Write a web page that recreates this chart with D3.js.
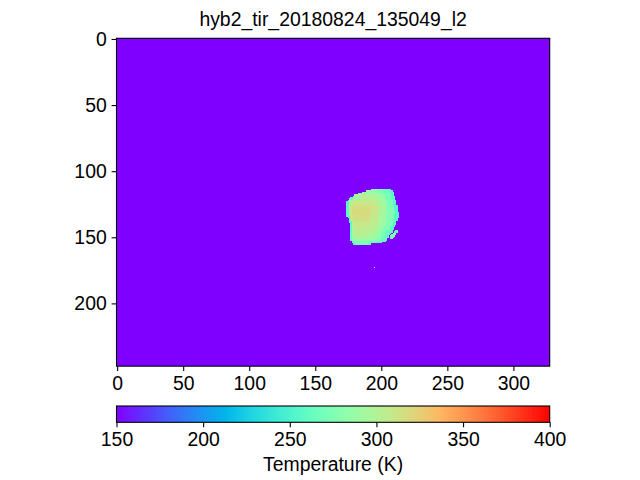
<!DOCTYPE html>
<html><head><meta charset="utf-8">
<script src="https://cdn.jsdelivr.net/npm/d3@7"></script>
<style>
body{margin:0;background:#fff}
svg{display:block}
text{font-family:"Liberation Sans",Arial,Helvetica,sans-serif}
</style>
</head><body>
<svg id="chart" width="640" height="480"></svg>
<script>
// ---------------- data ----------------
const title = "hyb2_tir_20180824_135049_l2";
const colorbarLabel = "Temperature (K)";
const imageWidth = 328, imageHeight = 248;
const xTicks = [0, 50, 100, 150, 200, 250, 300];
const yTicks = [0, 50, 100, 150, 200];
const cbarTicks = [150, 200, 250, 300, 350, 400];
const tMin = 150, tMax = 400;
const backgroundT = 150;           // sky pixels (at / below colour floor)

// blob outline: [row, firstCol, lastCol]
const blobRows = [
  [114,193,207],[115,189,208],[116,186,209],[117,183,209],[118,180,209],
  [119,179,210],[120,177,210],[121,176,210],[122,175,211],[123,174,211],
  [124,174,211],[125,174,211],[126,174,212],[127,174,212],[128,174,212],
  [129,174,212],[130,174,212],[131,174,213],[132,174,213],[133,174,213],
  [134,174,213],[135,175,213],[136,176,212],[137,176,212],[138,176,211],
  [139,176,211],[140,177,211],[141,177,210],[142,177,210],[143,177,209],
  [144,177,209],[145,177,208],[146,177,208],[147,177,207],[148,177,206],
  [149,177,205],[150,177,205],[151,177,204],[152,177,204],[153,178,203],
  [154,178,200],[155,179,192]
];
// temperature bands: first row of each band, then list of [fromCol, T]
const bandStart = [114,118,122,126,130,134,138,142,146,150,153];
const bandRuns = [
  [[173,272],[184,288],[192,285],[197,276],[202,266],[207,255]],
  [[173,266],[179,292],[184,302],[192,300],[198,288],[203,272],[208,256]],
  [[173,260],[176,300],[178,310],[193,306],[199,292],[204,274],[209,256]],
  [[173,258],[176,308],[178,316],[194,308],[200,292],[205,274],[210,255]],
  [[173,258],[176,310],[178,318],[193,310],[199,294],[204,276],[211,254]],
  [[173,258],[177,308],[179,315],[192,308],[198,294],[204,276],[210,256]],
  [[173,260],[178,304],[180,310],[192,305],[198,292],[204,274],[209,258]],
  [[173,260],[178,298],[180,306],[191,302],[197,290],[202,272],[207,258]],
  [[173,262],[178,292],[180,302],[190,298],[196,286],[200,272],[204,260]],
  [[173,264],[178,280],[180,292],[190,288],[196,278],[200,265]],
  [[173,262],[180,272],[190,268],[197,262]]
];
// small detached fragment: [row, firstCol, lastCol, T]
const fragmentRows = [
  [145,211,212,260],[146,210,212,266],[147,209,211,285],[148,208,211,288],
  [149,207,210,278],[150,207,209,268],[151,207,208,262]
];
// isolated warm pixel: [col, row, T]
const hotPixels = [[195,173,300]];

(function () {
// ---------------- layout ----------------
const svg = d3.select("#chart");
const pL = 116.5, pR = 549.7, pT = 38.3, pB = 366.2;
const cbTop = 406, cbBottom = 422.3;
const fontPx = 19.4, tickLen = 4.9, tickPad = 4.9;

const x = d3.scaleLinear().domain([-0.5, imageWidth - 0.5]).range([pL, pR]);
const y = d3.scaleLinear().domain([-0.5, imageHeight - 0.5]).range([pT, pB]);

const rainbow = t => d3.rgb(
  255 * Math.min(1, Math.abs(2 * t - 0.5)),
  255 * Math.max(0, Math.sin(Math.PI * t)),
  255 * Math.max(0, Math.cos(Math.PI * t / 2))
);
const color = d3.scaleSequential(t => rainbow(t).toString()).domain([tMin, tMax]).clamp(true);

// ---------------- build pixel runs ----------------
function tempAt(row, col) {
  let b = 0;
  for (let i = 0; i < bandStart.length; i++) if (row >= bandStart[i]) b = i;
  let T = bandRuns[b][0][1];
  for (const [c, t] of bandRuns[b]) if (col >= c) T = t;
  return T;
}
const runs = [];
for (const [row, c0, c1] of blobRows) {
  let start = c0, cur = tempAt(row, c0);
  for (let c = c0 + 1; c <= c1 + 1; c++) {
    const t = c <= c1 ? tempAt(row, c) : null;
    if (t !== cur) { runs.push({row, c0: start, c1: c - 1, T: cur}); start = c; cur = t; }
  }
}
for (const [row, c0, c1, T] of fragmentRows) runs.push({row, c0, c1, T});
for (const [col, row, T] of hotPixels) runs.push({row, c0: col, c1: col, T});

// ---------------- image ----------------
const img = svg.append("g").attr("shape-rendering", "crispEdges");
img.append("rect")
  .attr("x", x(-0.5)).attr("y", y(-0.5))
  .attr("width", x(imageWidth - 0.5) - x(-0.5))
  .attr("height", y(imageHeight - 0.5) - y(-0.5))
  .attr("fill", color(backgroundT));
img.selectAll("rect.px").data(runs).join("rect").attr("class", "px")
  .attr("x", d => x(d.c0 - 0.5))
  .attr("y", d => y(d.row - 0.5))
  .attr("width", d => x(d.c1 + 0.5) - x(d.c0 - 0.5))
  .attr("height", d => y(d.row + 0.5) - y(d.row - 0.5))
  .attr("fill", d => color(d.T));

svg.append("rect").attr("x", pL).attr("y", pT)
  .attr("width", pR - pL).attr("height", pB - pT)
  .attr("fill", "none").attr("stroke", "#000").attr("stroke-width", 1.1);

function styleAxis(g) {
  g.select(".domain").remove();
  g.selectAll(".tick line").attr("stroke", "#000").attr("stroke-width", 1.1);
  g.selectAll(".tick text").attr("fill", "#000")
    .style("font-size", fontPx + "px")
    .style("font-family", '"Liberation Sans",Arial,sans-serif');
}
svg.append("g").attr("transform", `translate(0,${pB})`)
  .call(d3.axisBottom(x).tickValues(xTicks).tickFormat(d3.format("d")).tickSize(tickLen).tickPadding(tickPad))
  .call(styleAxis);
svg.append("g").attr("transform", `translate(${pL},0)`)
  .call(d3.axisLeft(y).tickValues(yTicks).tickFormat(d3.format("d")).tickSize(tickLen).tickPadding(tickPad))
  .call(styleAxis);

svg.append("text").attr("x", (pL + pR) / 2).attr("y", 26)
  .attr("text-anchor", "middle").style("font-size", fontPx + "px").text(title);

// ---------------- colorbar ----------------
const cx = d3.scaleLinear().domain([tMin, tMax]).range([pL, pR]);
const defs = svg.append("defs");
const grad = defs.append("linearGradient").attr("id", "cbgrad")
  .attr("x1", "0%").attr("x2", "100%").attr("y1", "0%").attr("y2", "0%");
const nStops = 64;
grad.selectAll("stop").data(d3.range(nStops + 1)).join("stop")
  .attr("offset", i => (i / nStops * 100) + "%")
  .attr("stop-color", i => color(tMin + (tMax - tMin) * i / nStops));
svg.append("rect").attr("x", cx(tMin)).attr("y", cbTop)
  .attr("width", cx(tMax) - cx(tMin)).attr("height", cbBottom - cbTop)
  .attr("fill", "url(#cbgrad)").attr("stroke", "#000").attr("stroke-width", 1.1);
svg.append("g").attr("transform", `translate(0,${cbBottom})`)
  .call(d3.axisBottom(cx).tickValues(cbarTicks).tickFormat(d3.format("d")).tickSize(tickLen).tickPadding(tickPad))
  .call(styleAxis);
svg.append("text").attr("x", (pL + pR) / 2).attr("y", 471)
  .attr("text-anchor", "middle").style("font-size", fontPx + "px").text(colorbarLabel);
})();
</script>
</body></html>
